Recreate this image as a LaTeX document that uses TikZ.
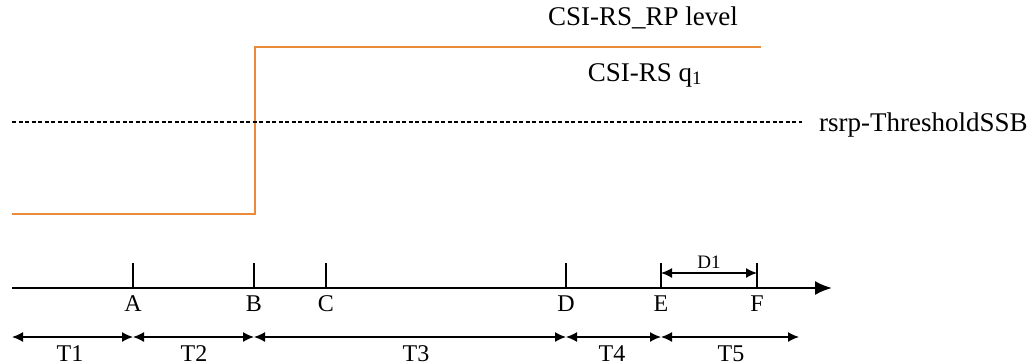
\documentclass[tikz,border=0pt]{standalone}
\usepackage{fontspec}
\setmainfont{Liberation Serif}
\usetikzlibrary{arrows.meta}
\definecolor{lvl}{RGB}{233,139,58}
\begin{document}
\begin{tikzpicture}[x=1pt,y=-1pt,
  lbl/.style={font=\fontsize{24}{24}\selectfont,inner sep=0pt,anchor=base},
  toplbl/.style={font=\fontsize{27}{27}\selectfont,inner sep=0pt,anchor=base},
  tick/.style={line width=1.8pt},
  span/.style={line width=1.4pt,{Latex[length=11pt,width=10pt]}-{Latex[length=11pt,width=10pt]}},
  axis/.style={line width=2.2pt,-{Latex[length=17pt,width=14pt]}}]
\useasboundingbox (0,0) rectangle (1034,362);
% signal level
\coordinate (s0) at (12,214);
\coordinate (s1) at (255,214);
\coordinate (s2) at (255,47);
\coordinate (s3) at (761,47);
\draw[lvl,line width=2.8pt] (s0) -- (s1) -- (s2) -- (s3);
\node[toplbl] (lvltxt) at (643,25) {CSI-RS\_RP level};
\node[toplbl] (q1txt) at (645,81) {CSI-RS q\textsubscript{1}};
% threshold
\coordinate (th0) at (12,122);
\coordinate (th1) at (802,122);
\draw[dash pattern=on 4pt off 2.5pt,line width=2.2pt] (th0) -- (th1);
\node[toplbl,anchor=base west] (thtxt) at (819,131) {rsrp-ThresholdSSB};
% time axis
\coordinate (ax0) at (12,288);
\coordinate (ax1) at (832,288);
\draw[axis] (ax0) -- (ax1);
\foreach \n/\x in {A/133,B/254,C/326,D/566,E/661,F/757}{
  \coordinate (\n) at (\x,288);
  \coordinate (\n t) at (\x,263);
  \draw[tick] (\n) -- (\n t);
  \node[lbl] (\n lbl) at (\x,311) {\n};
}
% D1
\coordinate (d1a) at (661,273);
\coordinate (d1b) at (757,273);
\draw[span] (d1a) -- (d1b);
\node[font=\fontsize{19}{19}\selectfont,inner sep=0pt,anchor=base] (d1txt) at (709,268) {D1};
% durations
\coordinate (L) at (12,337);
\coordinate (R) at (799,337);
\coordinate (Ab) at (133,337);
\coordinate (Bb) at (254,337);
\coordinate (Db) at (566,337);
\coordinate (Eb) at (661,337);
\draw[span] (L) -- (Ab);
\draw[span] (Ab) -- (Bb);
\draw[span] (Bb) -- (Db);
\draw[span] (Db) -- (Eb);
\draw[span] (Eb) -- (R);
\node[lbl] (t1) at (70,361) {T1};
\node[lbl] (t2) at (194,361) {T2};
\node[lbl] (t3) at (416,361) {T3};
\node[lbl] (t4) at (612,361) {T4};
\node[lbl] (t5) at (731,361) {T5};
\end{tikzpicture}
\end{document}
